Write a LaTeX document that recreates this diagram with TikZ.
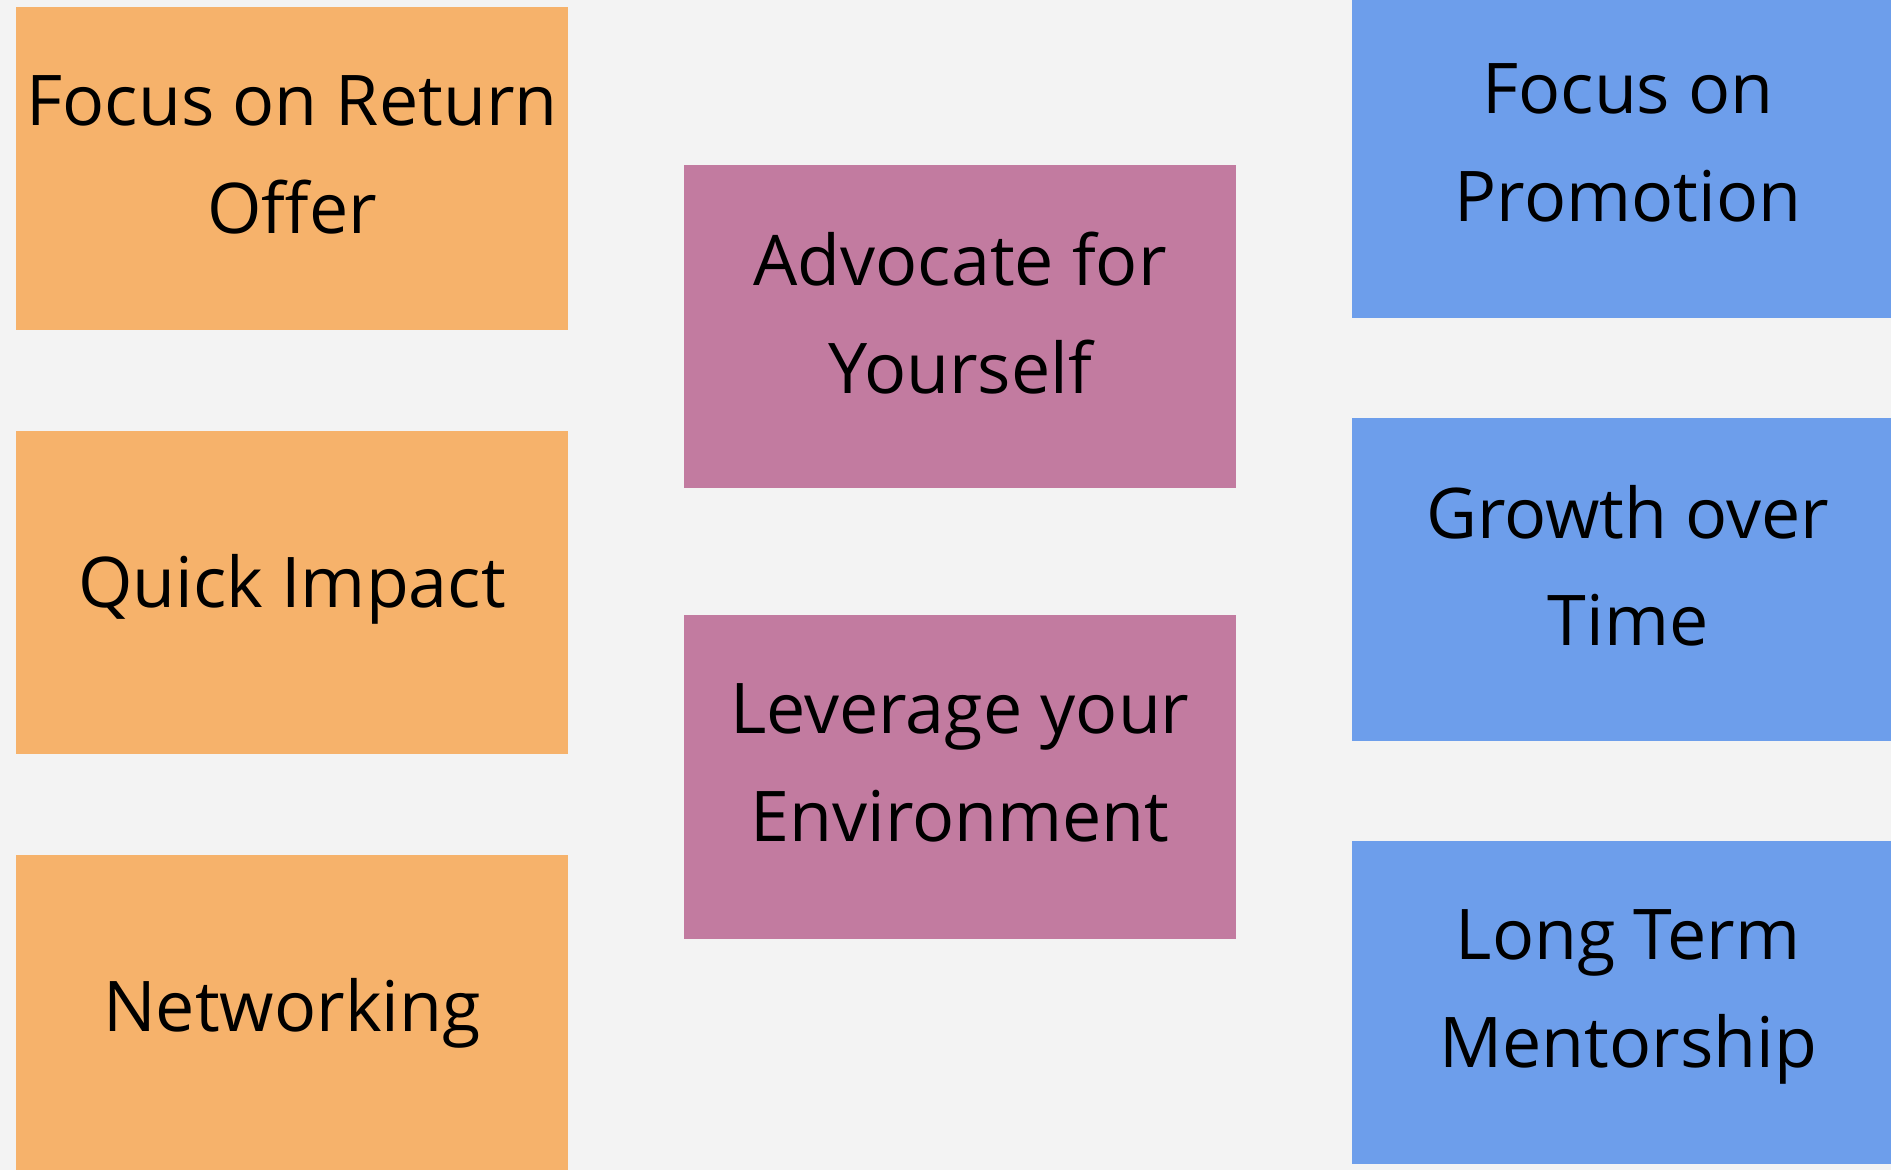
\documentclass[tikz,border=0pt]{standalone}
\usepackage{fontspec}
\setmainfont{Open Sans}
\usepackage{tikz}
\usetikzlibrary{positioning}
\usepackage{xcolor}
\definecolor{cardorange} {HTML} {F6B26B}
\definecolor{cardpink} {HTML} {C27BA0}
\definecolor{cardblue} {HTML} {6D9EEB}
\definecolor{bggray} {HTML} {F3F3F3}
\newcommand{\cardstrut}{\rule[-8pt]{0pt}{24.4pt}}
\tikzstyle{card} = [rectangle,minimum width=5.52cm,minimum height=3.23cm,inner sep=0pt,outer sep=0pt,align=center,font=\fontsize{19.9}{30.7}\selectfont,execute at begin node=\cardstrut,execute at end node=\cardstrut]
\tikzstyle{O} = [card,fill=cardorange]
\tikzstyle{P} = [card,fill=cardpink]
\tikzstyle{B} = [card,fill=cardblue]

\begin{document}
\begin{tikzpicture}
  \path [use as bounding box,fill=bggray] (0,0) rectangle (18.91,-11.70);

  \node [O] (o1) at (2.92,-1.685) {Focus on Return\\Offer};
  \node [O,below=1.01cm of o1] (o2) {Quick Impact};
  \node [O,below=1.01cm of o2] (o3) {Networking};

  \node [P,right=1.16cm of o1,yshift=-1.585cm] (p1) {Advocate for\\Yourself};
  \node [P,below=1.27cm of p1] (p2) {Leverage your\\Environment};

  \node [B,right=1.16cm of p1,yshift=1.705cm] (b1) {Focus on\\Promotion};
  \node [B,below=1.0cm of b1] (b2) {Growth over\\Time};
  \node [B,below=1.0cm of b2] (b3) {Long Term\\Mentorship};

\end{tikzpicture}
\end{document}
